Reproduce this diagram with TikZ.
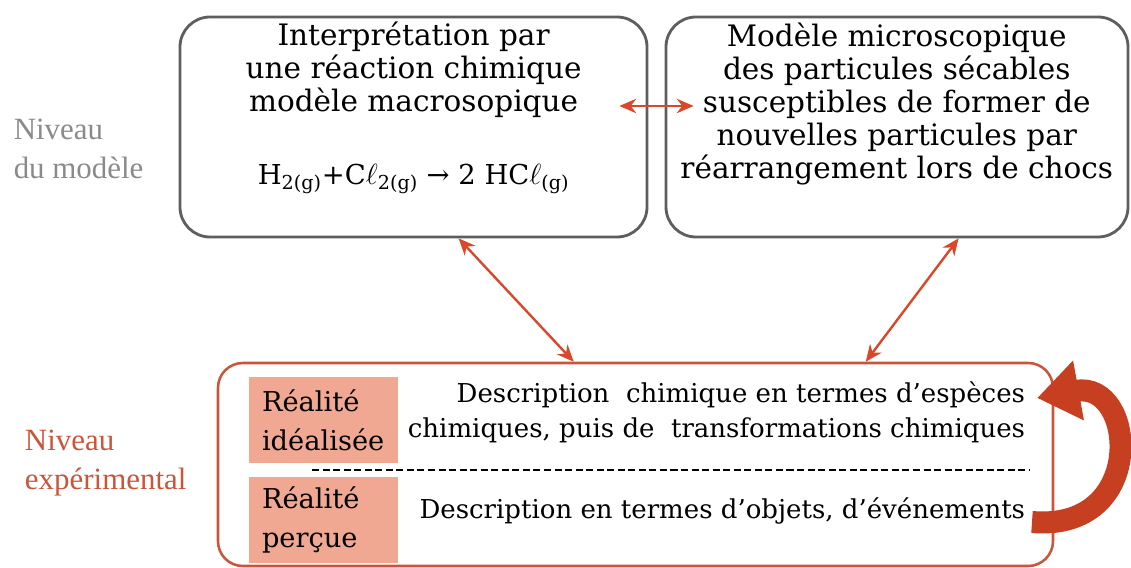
\documentclass[tikz,border=0pt]{standalone}
\usepackage{fontspec}
\setmainfont{DejaVu Serif}
\newfontfamily\levelfont{Liberation Serif}
\usepackage{tikz}
\usetikzlibrary{arrows.meta, calc}

\definecolor{boxgray}{HTML}{5E5E5E}
\definecolor{levelgray}{HTML}{8A8A8A}
\definecolor{exred}{HTML}{C9553A}
\definecolor{linkred}{HTML}{D9482A}
\definecolor{loopred}{HTML}{C63F20}
\definecolor{realfill}{HTML}{F0A892}

\newcommand{\boxtext}{\fontsize{21}{23.5}\selectfont}
\newcommand{\eqtext}{\fontsize{19.5}{23.5}\selectfont}
\newcommand{\desctext}{\fontsize{18.5}{24.8}\selectfont}
\newcommand{\realtext}{\fontsize{19.4}{28}\selectfont}
\newcommand{\leveltext}{\levelfont\fontsize{22}{28}\selectfont}

\tikzset{
    modelbox/.style={draw=boxgray, line width=2pt, rounded corners=0.75cm, minimum height=5.5cm, inner sep=0pt},
    expbox/.style={draw=exred, line width=1.8pt, rounded corners=0.62cm, minimum width=20.875cm, minimum height=5.075cm, inner sep=0pt},
    realbox/.style={fill=realfill, minimum width=3.725cm, minimum height=2.15cm, text width=3.075cm, inner xsep=0.325cm, align=left, font=\realtext},
    boxlines/.style={align=center, font=\boxtext},
    desclines/.style={align=right, anchor=east, font=\desctext},
    linkarrow/.style={linkred, line width=1.7pt, {Stealth[length=0.42cm, width=0.36cm]}-{Stealth[length=0.42cm, width=0.36cm]}},
    looparrow/.style={loopred, line width=0.55cm, -{Triangle[length=1.05cm, width=1.45cm]}},
}

\begin{document}
\begin{tikzpicture}

%% frame of the page
\useasboundingbox (0,0) rectangle (28.275,14.2);

%% text positions inside the top boxes
\def\macroX{10.34}
\def\microX{22.42}

    %% the two boxes of the model level
    \node[modelbox, minimum width=11.675cm] (macro) at (10.3375, 11.025) {};
    \node[modelbox, minimum width=11.55cm] (micro) at (22.425, 11.025) {};

    \node[boxlines] (macrotext) at (\macroX, 12.45) {Interprétation par\\une réaction chimique\\modèle macrosopique};
    \node[boxlines, font=\eqtext] (equation) at (\macroX, 9.72) {H\textsubscript{2(g)}+C$\ell$\textsubscript{2(g)} → 2 HC$\ell$\textsubscript{(g)}};

    \node[boxlines] (microtext) at (\microX, 11.6) {Modèle microscopique\\des particules sécables\\susceptibles de former de\\nouvelles particules par\\réarrangement lors de chocs};

    %% experimental level
    \node[expbox] (exp) at (15.8875, 2.5875) {};

    \node[realbox] (ideal) at (8.0875, 3.7) {Réalité\\idéalisée};
    \node[realbox] (percue) at (8.0875, 1.2) {Réalité\\perçue};

    \node[desclines] (chemdesc) at (25.75, 3.89) {Description\ \ chimique en termes d’espèces\\chimiques, puis de\ \ transformations chimiques};
    \node[desclines] (objdesc) at (25.75, 1.42) {Description en termes d’objets, d’événements};

    \coordinate (dashL) at (7.8, 2.45);
    \coordinate (dashR) at (25.75, 2.45);
    \draw[line width=1.6pt, dash pattern=on 5pt off 2.5pt] (dashL) -- (dashR);

    %% level labels on the left
    \node[anchor=west, align=left, text=levelgray, font=\leveltext] (modlevel) at (0.22, 10.48) {Niveau\\du modèle};
    \node[anchor=west, align=left, text=exred, font=\leveltext] (explevel) at (0.5, 2.62) {Niveau\\expérimental};

    %% links between the levels
    \draw[linkarrow] ($(macro.east)+(-0.725,0.525)$) -- ($(micro.west)+(0.725,0.525)$);
    \draw[linkarrow] ($(macro.south west)+(7.0,0)$) -- ($(exp.north west)+(8.925,0)$);
    \draw[linkarrow] ($(micro.south west)+(7.35,0)$) -- ($(exp.north west)+(16.225,0)$);

    %% loop from the perceived to the idealised description
    \coordinate (loopstart) at (25.8, 1.15);
    \coordinate (loopend) at (25.93, 4.25);
    \draw[looparrow] (loopstart) .. controls (28.7,0.9) and (28.4,4.7) .. (loopend);

\end{tikzpicture}
\end{document}
